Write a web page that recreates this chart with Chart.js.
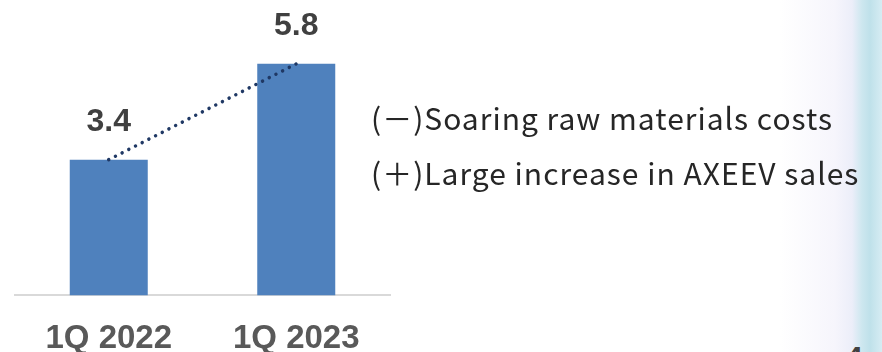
<!DOCTYPE html>
<html>
<head>
<meta charset="utf-8">
<script src="https://cdn.jsdelivr.net/npm/chart.js@4.4.1/dist/chart.umd.min.js"></script>
<style>
    html, body {
        margin: 0;
        padding: 0;
    }
    body {
        width: 882px;
        height: 352px;
        overflow: hidden;
        position: relative;
        background: linear-gradient(to right, #ffffff 0px, #ffffff 780px, #f6f5fc 835px, #eceef9 852px, #cde7ef 862px, #bfe1ea 870px, #d6ecf3 882px);
    }
    #wrap {
        position: absolute;
        left: 0;
        top: 0;
        width: 400px;
        height: 352px;
    }
    .note {
        position: absolute;
        left: 371px;
        font-family: "Noto Sans CJK JP", sans-serif;
        font-size: 30px;
        letter-spacing: 1px;
        color: #262626;
        white-space: nowrap;
        line-height: 1;
    }
    #page {
        position: absolute;
        left: 846px;
        top: 342px;
        font-family: "Liberation Sans", Arial, sans-serif;
        font-weight: bold;
        font-size: 30px;
        color: #404040;
        line-height: 1;
    }
</style>
</head>
<body>
<div id="wrap"><canvas id="profitChart"></canvas></div>
<div class="note" id="note1">(－)Soaring raw materials costs</div>
<div class="note" id="note2">(＋)Large increase in AXEEV sales</div>
<div id="page">4</div>
<script>
// Data
const quarters = ["1Q 2022", "1Q 2023"];
const profitValues = [3.4, 5.8];

// Värdena ovanför staplarna
const valueLabels = {
    id: 'valueLabels',
    afterDatasetsDraw(chart) {
        const ctx = chart.ctx;
        const meta = chart.getDatasetMeta(0);
        ctx.save();
        ctx.font = "bold 32px 'Liberation Sans', Arial, sans-serif";
        ctx.fillStyle = "#404040";
        ctx.textAlign = "center";
        ctx.textBaseline = "middle";
        meta.data.forEach((bar, i) => {
            ctx.fillText(profitValues[i].toFixed(1), bar.x, bar.y - 38);
        });
        ctx.restore();
    }
};

document.getElementById('note1').style.top = '102px';
document.getElementById('note2').style.top = '157px';

new Chart(document.getElementById('profitChart'), {
    data: {
        labels: quarters,
        datasets: [{
            type: 'bar',
            data: profitValues,
            backgroundColor: '#4f81bd',
            barPercentage: 0.416,
            categoryPercentage: 1,
            order: 2
        }, {
            type: 'line',
            data: profitValues,
            borderColor: '#1f3864',
            borderWidth: 3.5,
            borderDash: [0.01, 7.5],
            borderCapStyle: 'round',
            pointRadius: 0,
            fill: false,
            order: 1
        }]
    },
    options: {
        animation: false,
        responsive: true,
        maintainAspectRatio: false,
        layout: {
            padding: { left: 15, right: 10, top: 0, bottom: -31 }
        },
        scales: {
            x: {
                grid: { display: false, drawTicks: false },
                border: { display: true, color: '#d9d9d9', width: 2 },
                ticks: {
                    color: '#595959',
                    padding: 24,
                    maxRotation: 0,
                    minRotation: 0,
                    font: { family: "'Liberation Sans', Arial, sans-serif", size: 33, weight: 'bold' }
                }
            },
            y: {
                display: false,
                min: 0,
                max: 7.4
            }
        },
        plugins: {
            legend: { display: false },
            tooltip: { enabled: false }
        }
    },
    plugins: [valueLabels]
});
</script>
</body>
</html>
